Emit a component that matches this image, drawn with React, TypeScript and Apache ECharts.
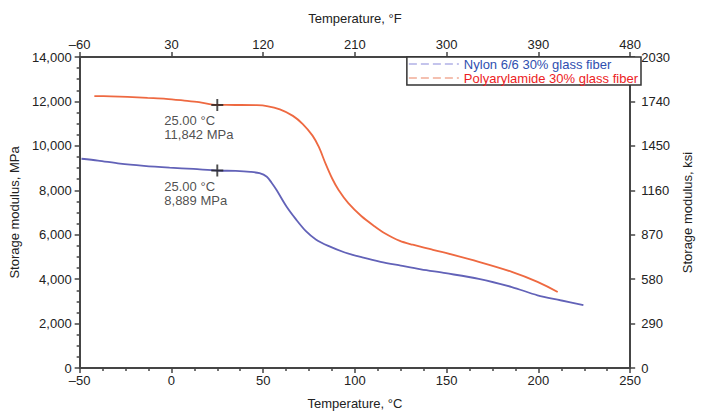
import React, { useEffect, useRef } from 'react';
import * as echarts from 'echarts';

const seriesNames = ['Nylon 6/6 30% glass fiber', 'Polyarylamide 30% glass fiber'];

const nylonTemps = [-49, -40, -28, -15, -1, 12, 25, 35, 43, 48, 52, 54.5, 57.3, 62.7, 68, 73.3, 78.7, 85.5, 94.5, 104, 114, 125, 136, 149.5, 167.5, 185.5, 199.5, 212, 224.5];
const nylonValues = [9420, 9340, 9200, 9100, 9020, 8960, 8889, 8870, 8830, 8770, 8610, 8350, 8010, 7270, 6680, 6160, 5790, 5496, 5200, 4980, 4780, 4607, 4440, 4267, 4015, 3644, 3274, 3050, 2830];

const polyTemps = [-42, -33, -24, -13, -3, 7, 15, 25, 35, 46.5, 52, 59.1, 66.2, 71.6, 76.9, 80.4, 84, 87.6, 91.1, 96.4, 103.6, 110.7, 116, 124.5, 131.5, 142.5, 149.5, 167.5, 185.5, 199.5, 210.5];
const polyValues = [12240, 12230, 12207, 12160, 12118, 12040, 11970, 11842, 11840, 11830, 11790, 11640, 11350, 10980, 10460, 9940, 9200, 8530, 8010, 7420, 6830, 6380, 6080, 5720, 5550, 5320, 5180, 4780, 4330, 3880, 3420];

const markerTemps = [25, 25];
const markerValues = [11842, 8889];

const fahrenheitTickLabels = ['–60', '30', '120', '210', '300', '390', '480'];

const FONT = "'Liberation Sans', Arial, Helvetica, sans-serif";
const AXIS_COLOR = '#454545';
const TEXT_COLOR = '#222';
const RED = '#ee6941';
const BLUE = '#6262b8';

export default function App() {
  const ref = useRef<HTMLDivElement>(null);

  useEffect(() => {
    if (!ref.current) return;
    const chart = echarts.init(ref.current, undefined, { renderer: 'svg' });

    const axisLine = { show: true, onZero: false, lineStyle: { color: AXIS_COLOR, width: 2 } };
    const axisTick = { show: true, length: 5, lineStyle: { color: AXIS_COLOR, width: 1.5 } };
    const minorTick = { show: true, splitNumber: 4, length: 3, lineStyle: { color: AXIS_COLOR, width: 1.5 } };
    const labelBase = { fontSize: 13, color: TEXT_COLOR, fontFamily: FONT };
    const nameStyle = { fontSize: 13, color: TEXT_COLOR, fontFamily: FONT };
    const hiddenSymbol = { color: 'rgba(0,0,0,0)', borderColor: 'rgba(0,0,0,0)', borderWidth: 0, opacity: 0 };

    const option: any = {
      animation: false,
      backgroundColor: '#fff',
      textStyle: { fontFamily: FONT },
      grid: { left: 79, right: 61, top: 57, bottom: 43, containLabel: false },
      legend: {
        data: [
          { name: seriesNames[0], textStyle: { color: '#2f4fb0' }, itemStyle: hiddenSymbol, lineStyle: { color: '#c4c4ec', type: 'dashed', width: 2 } },
          { name: seriesNames[1], textStyle: { color: '#ec1c24' }, itemStyle: hiddenSymbol, lineStyle: { color: '#f4c0b0', type: 'dashed', width: 2 } },
        ],
        orient: 'vertical',
        right: 61,
        top: 57,
        itemGap: 0,
        itemWidth: 50,
        itemHeight: 14,
        padding: [0, 3, 0, 1],
        borderColor: '#333',
        borderWidth: 1.5,
        backgroundColor: '#fff',
        textStyle: { fontSize: 13, lineHeight: 14, fontFamily: FONT },
      },
      xAxis: [
        {
          type: 'value',
          position: 'bottom',
          min: -50,
          max: 250,
          interval: 50,
          name: 'Temperature, °C',
          nameLocation: 'middle',
          nameGap: 29,
          nameTextStyle: nameStyle,
          axisLine,
          axisTick,
          minorTick,
          splitLine: { show: false },
          axisLabel: { ...labelBase, margin: 6, formatter: (v: number) => String(v).replace('-', '–') },
        },
        {
          type: 'value',
          position: 'top',
          min: 0,
          max: 540,
          interval: 90,
          name: 'Temperature, °F',
          nameLocation: 'middle',
          nameGap: 32,
          nameTextStyle: nameStyle,
          axisLine,
          axisTick,
          splitLine: { show: false },
          axisLabel: { ...labelBase, margin: 6, formatter: (v: number) => fahrenheitTickLabels[Math.round(v / 90)] ?? '' },
        },
      ],
      yAxis: [
        {
          type: 'value',
          position: 'left',
          min: 0,
          max: 14000,
          interval: 2000,
          name: 'Storage modulus, MPa',
          nameLocation: 'middle',
          nameGap: 54,
          nameRotate: 90,
          nameTextStyle: nameStyle,
          axisLine,
          axisTick,
          minorTick,
          splitLine: { show: false },
          axisLabel: { ...labelBase, margin: 8, formatter: (v: number) => v.toLocaleString('en-US') },
        },
        {
          type: 'value',
          position: 'right',
          min: 0,
          max: 2030,
          interval: 290,
          name: 'Storage modulus, ksi',
          nameLocation: 'middle',
          nameGap: 46,
          nameRotate: 90,
          nameTextStyle: nameStyle,
          axisLine,
          axisTick,
          splitLine: { show: false },
          axisLabel: { ...labelBase, margin: 11, formatter: (v: number) => String(v) },
        },
      ],
      series: [
        {
          name: seriesNames[0],
          type: 'line',
          xAxisIndex: 0,
          yAxisIndex: 0,
          symbol: 'none',
          smooth: 0.3,
          lineStyle: { color: BLUE, width: 1.8 },
          itemStyle: { color: BLUE },
          data: nylonTemps.map((t, i) => [t, nylonValues[i]]),
        },
        {
          name: seriesNames[1],
          type: 'line',
          xAxisIndex: 0,
          yAxisIndex: 0,
          symbol: 'none',
          smooth: 0.3,
          lineStyle: { color: RED, width: 1.8 },
          itemStyle: { color: RED },
          data: polyTemps.map((t, i) => [t, polyValues[i]]),
        },
        {
          name: 'markers',
          type: 'scatter',
          xAxisIndex: 0,
          yAxisIndex: 0,
          symbol: 'path://M4.2,0 H5.8 V4.2 H10 V5.8 H5.8 V10 H4.2 V5.8 H0 V4.2 H4.2 Z',
          symbolSize: 12,
          itemStyle: { color: '#222' },
          label: {
            show: true,
            position: 'bottom',
            align: 'left',
            offset: [-53, -2],
            fontSize: 13,
            lineHeight: 14,
            color: TEXT_COLOR,
            fontFamily: FONT,
            formatter: (p: any) =>
              `${(p.value[0] as number).toFixed(2)} °C\n${(p.value[1] as number).toLocaleString('en-US')} MPa`,
          },
          data: markerTemps.map((t, i) => [t, markerValues[i]]),
          z: 5,
        },
      ],
    };

    chart.setOption(option);
    return () => chart.dispose();
  }, []);

  return <div ref={ref} style={{ width: 702, height: 415, position: 'absolute', left: 0, top: 0 }} />;
}
